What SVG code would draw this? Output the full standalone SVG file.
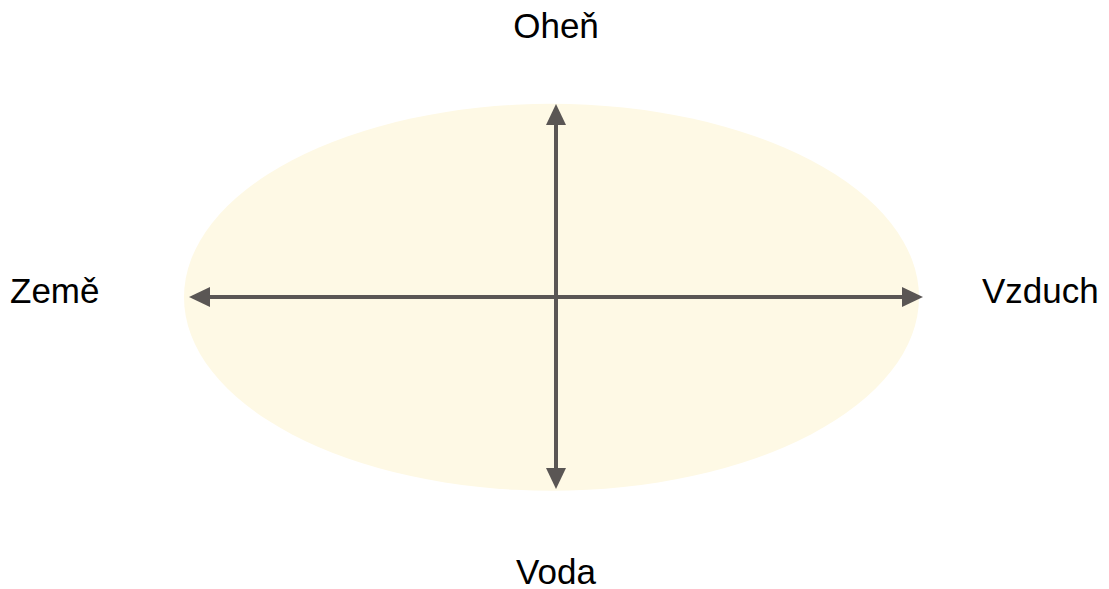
<svg xmlns="http://www.w3.org/2000/svg" width="1109" height="589" viewBox="0 0 1109 589">
<style>
.lbl{font-family:"Liberation Sans",Arial,sans-serif;font-size:35px;fill:#000}
.ax{stroke:#5a5654;stroke-width:4;fill:none}
</style>
<defs>
<marker id="ah" viewBox="0 0 21 20" refX="0" refY="10" markerWidth="21" markerHeight="20" markerUnits="userSpaceOnUse" orient="auto">
<path d="M0,0 L21,10 L0,20 Z" fill="#5a5654"/>
</marker>
</defs>
<rect width="1109" height="589" fill="#fff"/>
<g id="bg"><ellipse cx="551.5" cy="297.3" rx="367.5" ry="193.5" fill="#fef9e5"/></g>
<g id="connectors">
<line class="ax" x1="556" y1="297" x2="556" y2="125" marker-end="url(#ah)"/>
<line class="ax" x1="556" y1="297" x2="556" y2="468" marker-end="url(#ah)"/>
<line class="ax" x1="556" y1="297" x2="210" y2="297" marker-end="url(#ah)"/>
<line class="ax" x1="556" y1="297" x2="902" y2="297" marker-end="url(#ah)"/>
</g>
<g id="n-ohen"><text class="lbl" x="556" y="38" text-anchor="middle">Oheň</text></g>
<g id="n-voda"><text class="lbl" x="556" y="584" text-anchor="middle">Voda</text></g>
<g id="n-zeme"><text class="lbl" x="10" y="303">Země</text></g>
<g id="n-vzduch"><text class="lbl" x="982" y="303">Vzduch</text></g>
</svg>
